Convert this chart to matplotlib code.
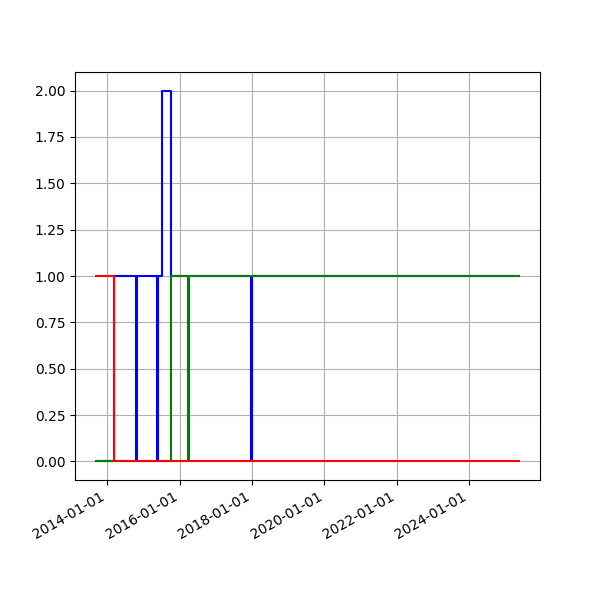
import numpy as np
import pandas as pd
import matplotlib
matplotlib.use("Agg")
import matplotlib.pyplot as plt
import matplotlib.dates as mdates

# Данные (ступенчатые ряды)
red_dates = ["2013-09-11", "2014-03-10", "2025-05-17"]
red_values = [1, 0, 0]

blue_dates = ["2013-09-11", "2014-03-10", "2014-10-18", "2014-10-28",
              "2015-05-16", "2015-05-26", "2015-07-08", "2015-10-08",
              "2017-12-20", "2017-12-30", "2025-05-17"]
blue_values = [0, 1, 0, 1, 0, 1, 2, 1, 0, 1, 1]

green_dates = ["2013-09-11", "2015-10-08", "2016-03-28", "2016-04-07", "2025-05-17"]
green_values = [0, 1, 0, 1, 1]

fig, ax = plt.subplots(figsize=(6, 6), dpi=100)

ax.step(pd.to_datetime(blue_dates), blue_values, where="post", color="b")
ax.step(pd.to_datetime(green_dates), green_values, where="post", color="g")
ax.step(pd.to_datetime(red_dates), red_values, where="post", color="r")

ax.xaxis.set_major_locator(mdates.YearLocator(2))
ax.xaxis.set_major_formatter(mdates.DateFormatter("%Y-%m-%d"))
ax.grid(True)
fig.autofmt_xdate()

plt.savefig("out.png", dpi=100)
